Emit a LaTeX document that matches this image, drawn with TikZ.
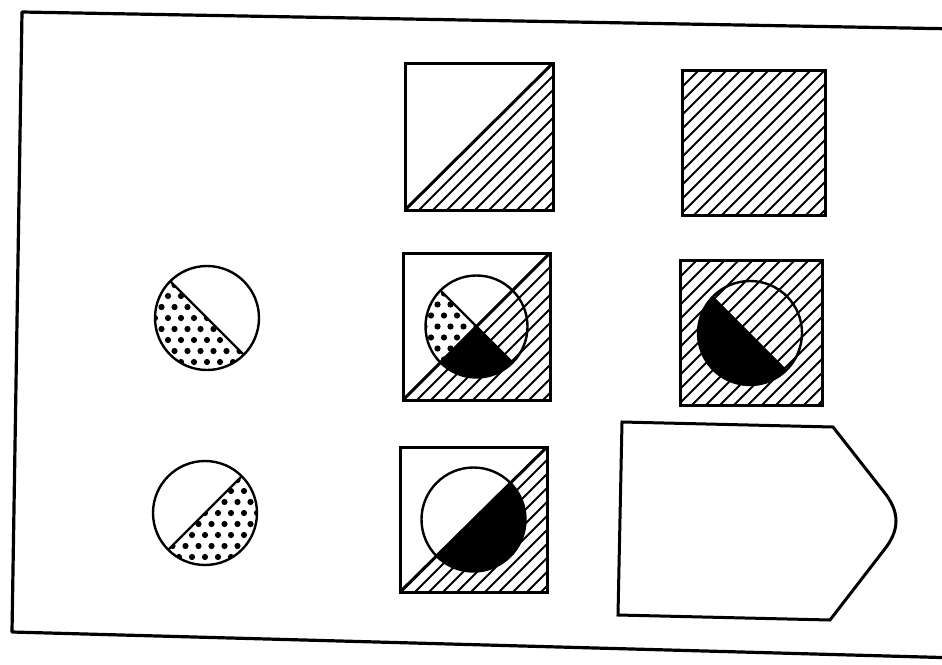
\documentclass[tikz,border=0pt]{standalone}
\usetikzlibrary{calc}
\tikzset{
  frameline/.style={line width=3.2pt, line join=round},
  shapeline/.style={line width=3pt, line join=miter},
  hatchline/.style={line width=2pt},
  thinline/.style={line width=2.4pt},
}
% hatch lines (direction up-right on screen) through centre #1,#2
\newcommand{\myhatch}[2]{%
  \foreach \k in {-20,...,20}{%
    \draw[hatchline] ({#1+14*\k-170},{#2+170}) -- ({#1+14*\k+170},{#2-170});}}
% stipple dots around centre #1,#2
\newcommand{\mydots}[2]{%
  \foreach \i in {-5,...,5}{\foreach \j in {-3,...,3}{%
    \fill ({#1+13*\i},{#2+22*\j}) circle[radius=3.1];
    \fill ({#1+13*\i+6.5},{#2+22*\j+11}) circle[radius=3.1];}}}
\begin{document}
\begin{tikzpicture}[x=1pt,y=-1pt]
\useasboundingbox (0,0) rectangle (942,664);
% outer frame
\begin{scope}
\clip (0,0) rectangle (942,664);
\draw[frameline] (960,29) -- (22,12) -- (12,632) -- (960,658);
\end{scope}

% ---------- top middle square ----------
\coordinate (A1) at (405,63);
\coordinate (A2) at (553,210);
\begin{scope}
\clip (405,210) -- (553,210) -- (553,63) -- cycle;
\myhatch{479}{136}
\end{scope}
\draw[shapeline] (A1) rectangle (A2);
\draw[shapeline] (405,210) -- (553,63);

% ---------- top right square ----------
\coordinate (B1) at (682,70);
\coordinate (B2) at (825,215);
\begin{scope}
\clip (B1) rectangle (B2);
\myhatch{753}{142}
\end{scope}
\draw[shapeline] (B1) rectangle (B2);

% ---------- middle left circle ----------
\coordinate (C1) at (207,318);
\begin{scope}
\clip (C1) ++(45:52) arc[start angle=45,end angle=225,radius=52] -- cycle;
\mydots{207}{318}
\end{scope}
\draw[thinline] (C1) circle[radius=52];
\draw[thinline] ($(C1)+(225:52)$) -- ($(C1)+(45:52)$);

% ---------- middle middle square ----------
\coordinate (D1) at (403,253);
\coordinate (D2) at (550,400);
\coordinate (DC) at (476.5,326.5);
\begin{scope}
\clip (403,400) -- (550,400) -- (550,253) -- cycle;
\myhatch{476.5}{326.5}
\end{scope}
\fill[white] (DC) circle[radius=51];
\begin{scope}
\clip (DC) -- ++(135:51) arc[start angle=135,end angle=225,radius=51] -- cycle;
\mydots{476.5}{326.5}
\end{scope}
\fill (DC) -- ++(45:51) arc[start angle=45,end angle=135,radius=51] -- cycle;
\begin{scope}
\clip (DC) -- ++(-45:51) arc[start angle=-45,end angle=45,radius=51] -- cycle;
\myhatch{476.5}{326.5}
\end{scope}
\draw[thinline] (DC) circle[radius=51];
\draw[thinline] ($(DC)+(225:51)$) -- ($(DC)+(45:51)$);
\draw[shapeline] (D1) rectangle (D2);
\draw[shapeline] (403,400) -- (550,253);

% ---------- middle right square ----------
\coordinate (E1) at (680,260);
\coordinate (E2) at (822,405);
\coordinate (EC) at (750,333);
\begin{scope}
\clip (E1) rectangle (E2);
\myhatch{751}{332}
\end{scope}
\fill (EC) -- ++(45:52) arc[start angle=45,end angle=225,radius=52] -- cycle;
\draw[thinline] (EC) circle[radius=52];
\draw[shapeline] (E1) rectangle (E2);

% ---------- bottom left circle ----------
\coordinate (C2) at (205,513);
\begin{scope}
\clip (C2) ++(-45:52) arc[start angle=-45,end angle=135,radius=52] -- cycle;
\mydots{205}{513}
\end{scope}
\draw[thinline] (C2) circle[radius=52];
\draw[thinline] ($(C2)+(135:52)$) -- ($(C2)+(-45:52)$);

% ---------- bottom middle square ----------
\coordinate (F1) at (400,447);
\coordinate (F2) at (547,592);
\coordinate (FC) at (473.5,519.5);
\begin{scope}
\clip (400,592) -- (547,592) -- (547,447) -- cycle;
\myhatch{473.5}{519.5}
\end{scope}
\fill[white] (FC) circle[radius=52];
\fill (FC) -- ++(-45:52) arc[start angle=-45,end angle=135,radius=52] -- cycle;
\draw[thinline] (FC) circle[radius=52];
\draw[shapeline] (F1) rectangle (F2);
\draw[shapeline] (400,592) -- (547,447);

% ---------- bottom right answer shape ----------
\draw[shapeline] (622,422) -- (833,427) -- (884,492)
  .. controls (900,512) and (900,530) .. (884,550)
  -- (830,620) -- (618,615) -- cycle;
\end{tikzpicture}
\end{document}
